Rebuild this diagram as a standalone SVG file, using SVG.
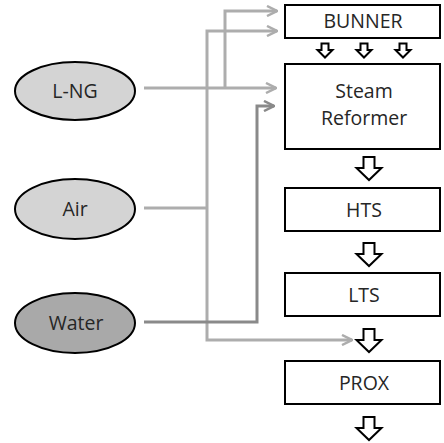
<svg xmlns="http://www.w3.org/2000/svg" width="444" height="443" viewBox="0 0 444 443">
<defs>
<style>
.box{fill:#fff;stroke:#000;stroke-width:2}
.ell{stroke:#000;stroke-width:2}
.t{font-family:"Open Sans","Noto Sans",sans-serif;font-size:19.5px;fill:#262626;text-anchor:middle}
.c{fill:none;stroke:#adadad;stroke-width:3}
.cd{fill:none;stroke:#8a8a8a;stroke-width:3}
.ha{fill:#fff;stroke:#000;stroke-width:2;stroke-linejoin:miter}
</style>
<marker id="ah" viewBox="0 0 12 12" refX="11" refY="6" markerWidth="12" markerHeight="12" markerUnits="userSpaceOnUse" orient="auto">
<path d="M1,1 L11,6 L1,11" fill="none" stroke="#adadad" stroke-width="2.5"/>
</marker>
<marker id="ahd" viewBox="0 0 12 12" refX="11" refY="6" markerWidth="12" markerHeight="12" markerUnits="userSpaceOnUse" orient="auto">
<path d="M1,1 L11,6 L1,11" fill="none" stroke="#8a8a8a" stroke-width="2.5"/>
</marker>
<path id="big" d="M-5.5,0 h11 v11 h7 l-12.5,12 l-12.5,-12 h7 z"/>
<path id="small" d="M-3.5,0 h7 v6.5 h4 l-7.5,7.5 l-7.5,-7.5 h4 z"/>
</defs>
<rect width="444" height="443" fill="#fff"/>

<g id="connectors">
<path class="c" d="M144,88 H276" marker-end="url(#ah)"/>
<path class="c" d="M225,88 V11 H277" marker-end="url(#ah)"/>
<path class="c" d="M144,208 H207"/>
<path class="c" d="M207,208 V31 H277" marker-end="url(#ah)"/>
<path class="c" d="M207,208 V340 H352" marker-end="url(#ah)"/>
<path class="cd" d="M144,322 H257 V106 H274" marker-end="url(#ahd)"/>
</g>

<g id="lng"><ellipse class="ell" cx="75" cy="91" rx="60" ry="29" fill="#d4d4d4"/><text class="t" x="75" y="98">L-NG</text></g>
<g id="air"><ellipse class="ell" cx="75" cy="209" rx="60" ry="30" fill="#d4d4d4"/><text class="t" x="75" y="216">Air</text></g>
<g id="water"><ellipse class="ell" cx="75" cy="323" rx="60" ry="30" fill="#a9a9a9"/><text class="t" x="76" y="330">Water</text></g>

<g id="bunner"><rect class="box" x="285" y="5" width="155" height="33"/><text class="t" x="363" y="28">BUNNER</text></g>
<g id="bunner-arrows">
<use href="#small" class="ha" x="325" y="43.5"/>
<use href="#small" class="ha" x="364" y="43.5"/>
<use href="#small" class="ha" x="403" y="43.5"/>
</g>
<g id="reformer"><rect class="box" x="285" y="64" width="155" height="85"/><text class="t" x="364" y="98">Steam</text><text class="t" x="364" y="125">Reformer</text></g>
<use href="#big" class="ha" x="369" y="157"/>
<g id="hts"><rect class="box" x="285" y="188" width="155" height="43"/><text class="t" x="364" y="217">HTS</text></g>
<use href="#big" class="ha" x="369" y="243"/>
<g id="lts"><rect class="box" x="285" y="273" width="155" height="43"/><text class="t" x="364" y="302">LTS</text></g>
<use href="#big" class="ha" x="369" y="329"/>
<g id="prox"><rect class="box" x="285" y="361" width="155" height="43"/><text class="t" x="364" y="390">PROX</text></g>
<use href="#big" class="ha" x="369" y="417"/>
</svg>
